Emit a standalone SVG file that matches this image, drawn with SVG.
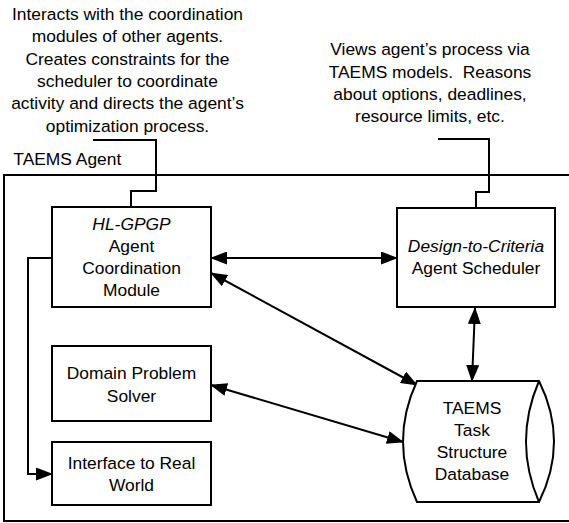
<svg xmlns="http://www.w3.org/2000/svg" width="569" height="523" viewBox="0 0 569 523">
<style>
text{font-family:"Liberation Sans",Arial,sans-serif;font-size:17.4px;fill:#000}
.c{text-anchor:middle}
.i{font-style:italic}
.box{fill:#fff;stroke:#000;stroke-width:2}
.ln{fill:none;stroke:#000;stroke-width:2}
</style>
<defs>
<marker id="ah" viewBox="0 0 17 13" refX="16" refY="6.5" markerWidth="17" markerHeight="13" markerUnits="userSpaceOnUse" orient="auto-start-reverse">
<path d="M0,0 L17,6.5 L0,13 z" fill="#000"/>
</marker>
</defs>
<g id="frame">
<rect x="4" y="175" width="600" height="346" fill="none" stroke="#000" stroke-width="2"/>
<text x="13.3" y="165.3">TAEMS Agent</text>
</g>
<g id="note-coordination">
<text class="c" x="127.5" y="20">Interacts with the coordination</text>
<text class="c" x="127.5" y="42.3">modules of other agents.</text>
<text class="c" x="127.5" y="64.6">Creates constraints for the</text>
<text class="c" x="127.5" y="86.9">scheduler to coordinate</text>
<text class="c" x="127.5" y="109.2">activity and directs the agent’s</text>
<text class="c" x="127.5" y="131.5">optimization process.</text>
</g>
<g id="note-scheduler">
<text class="c" x="430" y="55.3">Views agent’s process via</text>
<text class="c" x="430" y="77.6" xml:space="preserve">TAEMS models.  Reasons</text>
<text class="c" x="430" y="99.9">about options, deadlines,</text>
<text class="c" x="430" y="122.2">resource limits, etc.</text>
</g>
<g id="connectors">
<polyline class="ln" points="93,140 156,140 156,191 131,191 131,207"/>
<polyline class="ln" points="438,139 489,139 489,192 476,192 476,208"/>
<line class="ln" x1="211" y1="258" x2="397" y2="258" marker-start="url(#ah)" marker-end="url(#ah)"/>
<line class="ln" x1="211" y1="273" x2="417" y2="385" marker-start="url(#ah)" marker-end="url(#ah)"/>
<line class="ln" x1="211" y1="385" x2="403" y2="442" marker-start="url(#ah)" marker-end="url(#ah)"/>
<line class="ln" x1="475" y1="308" x2="472" y2="381" marker-start="url(#ah)" marker-end="url(#ah)"/>
<polyline class="ln" points="52,258 28,258 28,474 52,474" marker-end="url(#ah)"/>
</g>
<g id="hl-gpgp">
<rect class="box" x="52" y="207" width="159" height="100"/>
<text class="c i" x="131.5" y="230">HL-GPGP</text>
<text class="c" x="131.5" y="252">Agent</text>
<text class="c" x="131.5" y="274">Coordination</text>
<text class="c" x="131.5" y="296">Module</text>
</g>
<g id="scheduler">
<rect class="box" x="397" y="208" width="158" height="99"/>
<text class="c i" x="476" y="252">Design-to-Criteria</text>
<text class="c" x="476" y="274">Agent Scheduler</text>
</g>
<g id="domain-solver">
<rect class="box" x="52" y="346" width="159" height="75"/>
<text class="c" x="131.5" y="379">Domain Problem</text>
<text class="c" x="131.5" y="401.5">Solver</text>
</g>
<g id="interface">
<rect class="box" x="52" y="442" width="159" height="63"/>
<text class="c" x="131.5" y="469">Interface to Real</text>
<text class="c" x="131.5" y="491">World</text>
</g>
<g id="database">
<path class="box" d="M417,381 L539,381 Q569,441.5 539,502 L417,502 Q389,441.5 417,381 Z"/>
<path class="ln" d="M539,381 Q513,441.5 539,502"/>
<text class="c" x="472" y="414">TAEMS</text>
<text class="c" x="472" y="436">Task</text>
<text class="c" x="472" y="458">Structure</text>
<text class="c" x="472" y="480">Database</text>
</g>
</svg>
